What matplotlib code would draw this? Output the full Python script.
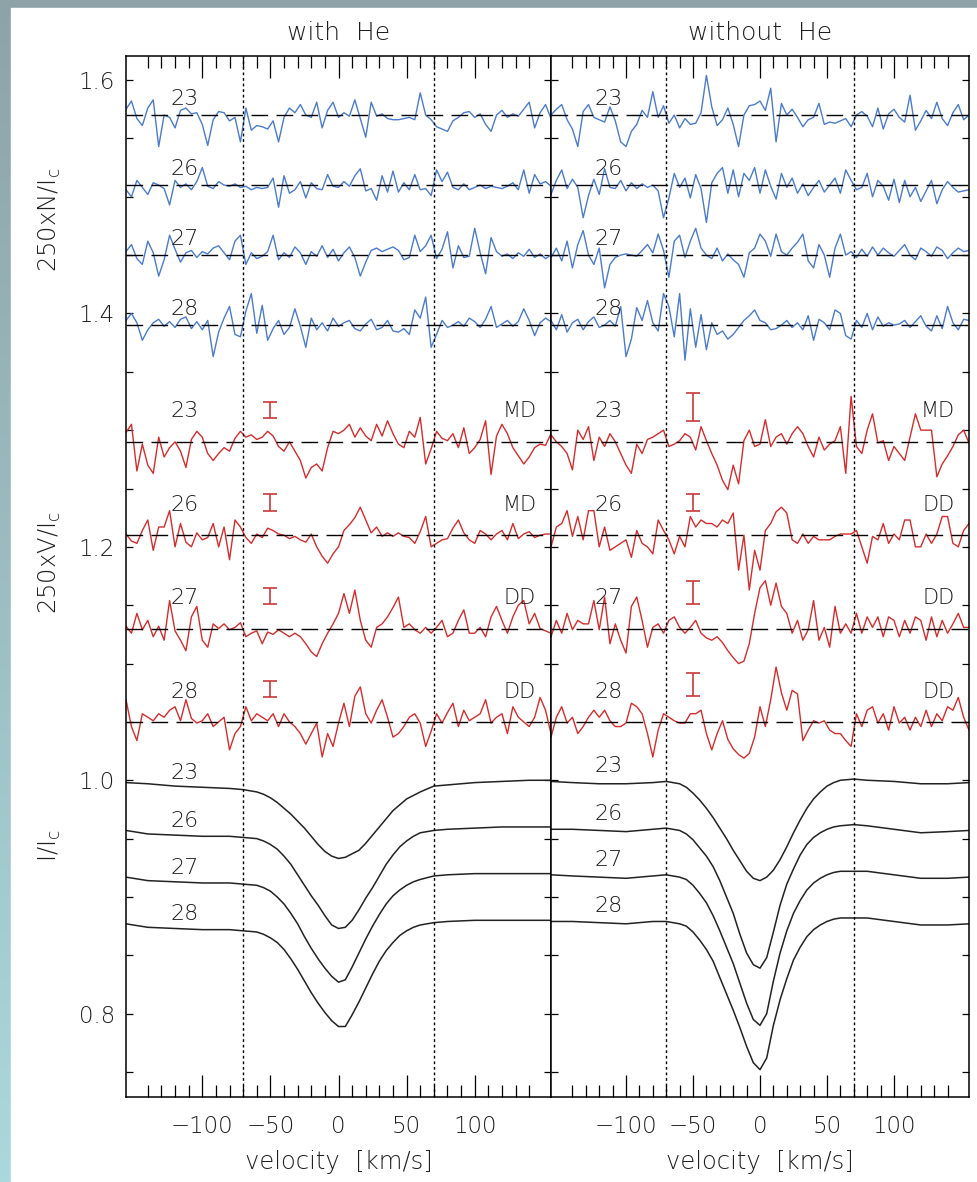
import numpy as np
import matplotlib.pyplot as plt
from matplotlib.patches import Rectangle
from matplotlib.colors import LinearSegmentedColormap

plt.rcParams['font.family'] = ['DejaVu Sans']
plt.rcParams['font.weight'] = 'light'
plt.rcParams['axes.titleweight'] = 'light'
plt.rcParams['axes.labelweight'] = 'light'
plt.rcParams['mathtext.default'] = 'regular'

nights = ['23', '26', '27', '28']
field_left = ['MD', 'MD', 'DD', 'DD']
field_right = ['MD', 'DD', 'DD', 'DD']

# offsets of the stacked curves
n_base = [1.57, 1.51, 1.45, 1.39]
v_base = [1.29, 1.21, 1.13, 1.05]

# intensity profiles, velocity grid in km/s
v_prof = [-156, -140, -120, -100, -80, -70,
          -60, -55, -50, -45, -40, -35, -30, -25, -20, -15, -10, -5, 0,
          5, 10, 15, 20, 25, 30, 35, 40, 45, 50, 55, 60,
          70, 80, 100, 120, 140, 156]

i_left = [
    [0.998, 0.997, 0.995, 0.994, 0.993, 0.992,
     0.990, 0.988, 0.985, 0.981, 0.976, 0.971, 0.965, 0.959, 0.952, 0.945, 0.939, 0.935, 0.933,
     0.934, 0.937, 0.940, 0.946, 0.953, 0.960, 0.967, 0.974, 0.979, 0.984, 0.987, 0.990,
     0.995, 0.996, 0.998, 0.999, 1.000, 1.000],
    [0.957, 0.954, 0.953, 0.952, 0.952, 0.951,
     0.950, 0.948, 0.945, 0.941, 0.935, 0.928, 0.919, 0.910, 0.901, 0.893, 0.884, 0.876, 0.873,
     0.874, 0.880, 0.889, 0.899, 0.908, 0.918, 0.928, 0.936, 0.943, 0.948, 0.952, 0.955,
     0.957, 0.958, 0.959, 0.960, 0.960, 0.960],
    [0.917, 0.914, 0.913, 0.912, 0.912, 0.911,
     0.910, 0.908, 0.905, 0.900, 0.894, 0.886, 0.877, 0.866, 0.856, 0.847, 0.839, 0.832, 0.827,
     0.829, 0.840, 0.852, 0.864, 0.875, 0.885, 0.894, 0.901, 0.906, 0.910, 0.913, 0.915,
     0.918, 0.919, 0.920, 0.920, 0.920, 0.920],
    [0.877, 0.874, 0.873, 0.872, 0.872, 0.871,
     0.870, 0.868, 0.865, 0.861, 0.855, 0.847, 0.838, 0.828, 0.818, 0.809, 0.801, 0.794, 0.789,
     0.789, 0.799, 0.810, 0.822, 0.834, 0.845, 0.854, 0.861, 0.867, 0.871, 0.874, 0.876,
     0.878, 0.879, 0.880, 0.880, 0.880, 0.880],
]

i_right = [
    [0.999, 0.998, 0.997, 0.997, 0.998, 0.999,
     0.997, 0.994, 0.989, 0.983, 0.976, 0.968, 0.959, 0.950, 0.940, 0.931, 0.922, 0.916, 0.914,
     0.917, 0.923, 0.932, 0.943, 0.955, 0.966, 0.976, 0.984, 0.990, 0.995, 0.998, 1.000,
     1.001, 1.000, 0.999, 0.997, 0.997, 0.998],
    [0.958, 0.958, 0.957, 0.956, 0.958, 0.959,
     0.957, 0.954, 0.949, 0.942, 0.935, 0.926, 0.914, 0.900, 0.886, 0.868, 0.852, 0.842, 0.839,
     0.848, 0.870, 0.893, 0.911, 0.924, 0.936, 0.945, 0.951, 0.955, 0.958, 0.960, 0.961,
     0.962, 0.961, 0.958, 0.955, 0.956, 0.957],
    [0.919, 0.918, 0.917, 0.916, 0.918, 0.919,
     0.917, 0.915, 0.910, 0.903, 0.895, 0.884, 0.871, 0.857, 0.843, 0.826, 0.809, 0.795, 0.790,
     0.800, 0.828, 0.852, 0.871, 0.886, 0.897, 0.906, 0.912, 0.916, 0.919, 0.921, 0.922,
     0.922, 0.922, 0.919, 0.916, 0.916, 0.917],
    [0.879, 0.879, 0.878, 0.877, 0.879, 0.879,
     0.877, 0.875, 0.870, 0.863, 0.855, 0.845, 0.831, 0.817, 0.803, 0.788, 0.772, 0.758, 0.752,
     0.762, 0.790, 0.812, 0.830, 0.846, 0.857, 0.866, 0.872, 0.876, 0.879, 0.881, 0.882,
     0.882, 0.882, 0.879, 0.876, 0.876, 0.877],
]

# null profiles N (x1e-3, about the offset), samples every 4 km/s from -156
n_left = [
    [5, 12, -3, -9, 6, 13, -27, 0, -2, -11,
     4, 6, 1, 2, -8, -26, -4, 3, 2, -5,
     -2, -23, 6, -13, -9, -10, -12, -5, -23, -2,
     6, 2, 9, 0, -2, 11, -11, 4, 11, -2,
     2, -1, 13, -3, -19, 11, -1, 1, -3, -4,
     -4, -3, -2, -4, 19, 0, -4, -10, -12, -14,
     -5, -2, 2, 3, -2, 1, -8, -14, 0, 4,
     -2, 1, -1, 5, 11, -11, 2, 9, -3],
    [-4, -10, 4, -2, -8, 2, 0, -3, -17, 4,
     -2, 1, -4, 3, 15, -1, -3, 3, 0, -1,
     1, -2, -1, -4, -2, -3, -2, 6, -19, 8,
     -7, -4, 3, -11, 2, -3, -4, 9, -1, -2,
     3, -1, 8, 14, -5, -3, -13, 8, -6, 12,
     -6, 2, -4, 9, -4, -3, -9, 13, 3, 11,
     -2, -4, 1, -4, -2, 0, -3, -1, -2, -3,
     -1, 2, -4, 13, -7, 9, 1, 3, -1],
    [3, 9, -3, -8, 12, 2, -18, -4, 17, 5,
     -6, 2, 4, -2, 3, 1, 6, 8, 2, -4,
     12, 17, -8, 2, -3, -1, 3, 17, -4, 2,
     -2, 7, 2, -8, 3, -1, 8, -2, 5, -5,
     2, 7, -2, -18, -6, 4, 6, 3, 5, 7,
     4, -4, -2, 17, 3, 8, 17, -3, 5, 20,
     -11, 8, -2, -1, 23, 2, -16, 15, 3, -1,
     1, -3, 2, -1, 5, -2, 1, -3, 0],
    [4, 10, 2, -13, -4, 2, 5, -1, 3, -2,
     5, 7, -3, 3, -4, 4, -27, -6, 6, 16,
     -8, -10, 12, 27, -7, 17, -13, -3, 4, -8,
     -2, 14, -1, -19, 6, -4, 2, -5, 6, -1,
     2, 4, -3, -5, 1, 5, -4, -2, 4, -5,
     -6, -3, -8, 13, 6, 24, -19, -8, 4, -2,
     0, 3, -1, 6, 3, -2, 5, 16, -2, 1,
     4, -1, 3, 14, 4, -9, 2, 6, 3],
]

n_right = [
    [0, 5, 9, -4, -12, -27, 3, 9, -2, -4,
     -6, 7, -5, -23, -27, -14, -8, 4, -2, 20,
     -2, 8, -7, 0, -11, -3, -8, -7, 2, 34,
     7, -9, -4, 6, -8, -27, 0, 8, 9, 12,
     4, 23, -23, 10, 0, 5, -2, -10, -4, -2,
     10, -8, -6, -7, -5, -3, -10, 0, 3, -1,
     -10, 6, -12, 1, 5, -2, -6, 17, -13, -5,
     4, -3, 11, -3, -9, 2, 9, -4, 0],
    [-8, 4, 13, -3, 5, -2, -28, -9, 5, -8,
     14, -2, -3, 4, -5, 2, -3, 1, -2, 0,
     -5, -28, -11, 10, -2, 6, -11, 9, -3, -32,
     2, 10, 15, -7, 13, -10, 10, 4, 15, -7,
     13, -1, -12, 10, -2, 6, -7, 1, -9, -2,
     4, -6, 0, 6, -7, 13, 4, -4, -2, 10,
     -10, 4, -1, -13, 5, -15, 4, -10, -2, -14,
     -5, 4, -16, -4, 3, -2, -6, -5, -4],
    [-2, 6, -5, 12, -11, 9, 21, 0, -8, 6,
     -28, -8, -2, 0, 1, 0, -1, 4, 9, 2,
     18, 4, -19, 12, 17, -2, 12, 23, 6, 0,
     -3, 6, -5, 1, -4, -8, -19, 2, 6, 18,
     12, -1, 18, 3, 0, 6, 11, 18, -5, -11,
     9, 0, -19, 6, 18, 0, 3, -2, 5, -1,
     7, 0, 6, 2, -1, 4, 9, 0, -4, 6,
     3, -1, 7, 4, -3, 2, 6, 3, 4],
    [4, -4, 9, -6, 2, 5, -4, 3, 7, -2,
     0, 4, -1, 16, -27, -12, 15, 4, 21, 2,
     -5, 27, 16, -10, 27, -30, 14, -19, 9, -21,
     2, -8, -5, -12, -8, -2, 4, 8, 13, 4,
     2, -4, -3, 0, 4, -2, 2, -4, 8, -13,
     5, 2, -4, 13, 10, -9, -12, 4, -2, 10,
     -4, 7, -1, 2, 0, 1, 4, -2, 3, 8,
     -1, -5, 8, -3, 16, 2, -4, 5, 4],
]

# Stokes V profiles (x1e-3, about the offset)
v_left = [
    [8, 15, -25, -2, -20, -27, 4, -13, -5, 0,
     -8, -22, 2, 9, 4, -10, -16, -10, -5, -8,
     3, 9, 4, 6, 2, 4, 9, 5, -4, -8,
     0, -8, -16, -31, -22, -19, -25, -5, 9, 7,
     10, 15, 4, 12, 5, 1, 15, 5, 18, 7,
     -2, -5, 9, 4, 21, -19, -6, 9, 3, 1,
     7, -5, 12, -10, -5, 2, 18, -28, 5, 15,
     7, -5, -12, -19, -13, -5, -2, -3, 7],
    [1, -5, -7, 4, 13, -13, 7, 7, 21, -10,
     10, -6, -10, 2, -4, -2, 10, -10, 7, -21,
     13, 7, -2, -7, 1, -2, 6, 4, 1, 0,
     -3, -1, -4, -6, 1, -10, -18, -24, -16, -10,
     4, 9, 15, 24, 13, 2, 7, -1, 2, -1,
     2, -1, -2, -7, 3, 16, -10, -7, -4, -3,
     6, 13, 2, -4, -7, 4, 1, -4, 1, 4,
     -4, 10, -3, 1, 3, -2, 0, 1, 1],
    [2, -4, 13, -1, 7, -7, 2, -10, 24, -2,
     -10, -19, 10, 19, -10, -16, 4, 0, 4, -1,
     1, 5, -7, -4, -2, -13, -3, -5, -1, -4,
     -7, -4, -7, -13, -20, -24, -13, -4, 4, 13,
     30, 13, 33, 7, -10, -16, 1, 4, 10, 18,
     27, 1, 4, -1, -4, 1, -4, 1, 7, -7,
     -4, 7, 16, -4, -4, 1, -7, 10, 19, 7,
     -4, 10, 20, 24, 4, 13, 0, -2, -4],
    [19, -4, -16, 7, 4, 1, 7, 4, 10, 13,
     1, 19, 3, -1, 1, 7, -4, 0, 4, -24,
     -10, -4, 13, 1, 7, 4, 1, 7, -4, 7,
     0, -4, -10, -19, -10, -1, -30, -10, -21, -1,
     16, -4, 22, 30, 7, -1, 10, 19, 4, -13,
     -10, -4, 4, 7, -1, -21, -8, 7, -1, 8,
     16, -4, 10, 1, 4, 7, 19, -1, 4, 7,
     -10, 13, 4, 0, -4, 4, 21, 10, -10],
]

v_right = [
    [6, 0, -4, -10, -24, 10, 2, 13, -16, 4,
     -4, 7, 0, -10, -20, -27, -2, -10, 2, 4,
     7, 10, -4, -2, 1, 7, 4, -7, 13, 1,
     -10, -20, -33, -41, -20, -36, 1, 10, -4, -2,
     19, -4, 4, 7, -2, 7, 13, 7, -4, -13,
     4, -7, -2, 1, 13, -27, 39, -4, -10, 10,
     24, -1, 1, -16, -4, -10, -16, 4, 24, 10,
     10, 10, -30, -19, -12, -4, 6, 10, -1],
    [-10, 7, 10, 21, -1, 16, -4, 21, 21, -10,
     7, -13, -10, -7, -4, -19, 4, -7, -10, -16,
     13, 4, -4, -16, -1, -10, 16, 7, 13, 10,
     10, 7, 13, 10, 19, -30, 0, -47, -13, -30,
     4, 10, 20, 24, 19, -4, -7, 1, -7, -1,
     -4, -4, -4, -1, 1, 1, 1, 4, -10, -24,
     -1, -4, 10, -7, 1, -4, 13, 13, -10, -10,
     1, -7, 1, 16, 16, -7, -10, 4, 10],
    [-7, 7, -4, 13, -1, 7, 4, 4, 24, -1,
     27, -13, 4, -10, -21, 19, 27, 7, -16, 1,
     4, -4, 7, 10, 1, -4, 1, 7, -4, -8,
     -10, -7, -12, -19, -25, -30, -28, -13, 13, 35,
     41, 20, 39, 19, 13, -4, 7, -10, -1, 24,
     -10, 1, -16, 19, -4, 4, -4, 13, -4, 10,
     1, 10, -7, 10, 7, -7, 7, -4, 10, 7,
     -10, 10, -7, 7, -4, 4, 13, 1, 1],
    [-13, 4, 13, -1, 4, -10, -4, 4, 10, 4,
     10, 1, -4, -4, -1, 16, 13, 7, -10, -30,
     -7, 7, 4, 1, -1, -1, 7, 7, 10, -10,
     -24, -10, 1, -15, -23, -28, -31, -27, -13, 13,
     -4, 19, 47, 25, 10, 27, 24, -16, -7, 1,
     -1, 1, -7, -10, -10, -16, -21, 7, -4, 10,
     13, -1, 7, -7, 13, -1, 4, -7, 4, -4,
     10, -4, 7, 1, 13, 10, 21, 4, -7],
]

# typical error bars on V
err_y_left = [1.317, 1.238, 1.158, 1.078]
err_h_left = [0.007, 0.007, 0.007, 0.007]
err_y_right = [1.320, 1.238, 1.161, 1.082]
err_h_right = [0.012, 0.007, 0.010, 0.010]

txt = '#1e1e1e'
blue = '#4a7bcc'
red = '#d42c2c'

fig = plt.figure(figsize=(9.77, 11.82), dpi=100)

bg = fig.add_axes([0, 0, 1, 1], zorder=-10)
cmap = LinearSegmentedColormap.from_list('bg', ['#abd8dc', '#8ea3a8'])
bg.imshow(np.linspace(0, 1, 256).reshape(-1, 1), aspect='auto', cmap=cmap,
          extent=[0, 1, 0, 1], origin='lower')
bg.add_patch(Rectangle((11 / 977, 0), 1, 1 - 8 / 1182, color='white', transform=bg.transAxes))
bg.set_xlim(0, 1)
bg.set_ylim(0, 1)
bg.axis('off')

ax1 = fig.add_axes([126 / 977, 85 / 1182, 425 / 977, 1041 / 1182])
ax2 = fig.add_axes([551 / 977, 85 / 1182, 418 / 977, 1041 / 1182])

panels = [
    (ax1, 'with  He', i_left, n_left, v_left, field_left, err_y_left, err_h_left, 0.0),
    (ax2, 'without  He', i_right, n_right, v_right, field_right, err_y_right, err_h_right, 0.005),
]

for ax, title, prof, nn, vv, field, ey, eh, dy in panels:
    for k in range(4):
        xn = np.linspace(-156, 156, len(nn[k]))
        ax.plot(xn, n_base[k] + np.array(nn[k]) / 1000, color=blue, lw=1.0)
        xv = np.linspace(-156, 156, len(vv[k]))
        ax.plot(xv, v_base[k] + np.array(vv[k]) / 1000, color=red, lw=1.0)
        ax.plot(v_prof, prof[k], color='#222222', lw=1.1)
        ax.axhline(n_base[k], color='black', lw=1.0, dashes=(12, 6), zorder=3)
        ax.axhline(v_base[k], color='black', lw=1.0, dashes=(12, 6), zorder=3)
        ax.errorbar(-50, ey[k], yerr=eh[k], color='#c8383a', lw=1.2, capsize=5, capthick=1.2)

        ax.text(-113, n_base[k] + 0.014, nights[k], fontsize=16, color=txt, ha='center', va='center')
        ax.text(-113, v_base[k] + 0.026, nights[k], fontsize=16, color=txt, ha='center', va='center')
        ax.text(-113, prof[k][0] + 0.008 + dy, nights[k], fontsize=16, color=txt, ha='center', va='center')
        ax.text(133, v_base[k] + 0.026, field[k], fontsize=15, color=txt, ha='center', va='center')

    ax.axvline(-70, color='black', lw=1.0, linestyle=(0, (2, 2)))
    ax.axvline(70, color='black', lw=1.0, linestyle=(0, (2, 2)))

    ax.set_xlim(-156, 156)
    ax.set_ylim(0.7286, 1.6206)
    ax.set_xticks([-100, -50, 0, 50, 100])
    ax.set_xticks(np.arange(-140, 141, 10), minor=True)
    ax.set_yticks([0.8, 1.0, 1.2, 1.4, 1.6])
    ax.set_yticks(np.arange(0.75, 1.61, 0.05), minor=True)
    ax.tick_params(which='both', direction='in', top=True, right=True, width=0.9,
                   labelsize=16.5, labelcolor=txt)
    ax.tick_params(axis='x', which='major', length=16, pad=13.3)
    ax.tick_params(axis='x', which='minor', length=8.5)
    ax.tick_params(axis='y', which='both', length=5, pad=8)
    for s in ax.spines.values():
        s.set_linewidth(1.1)
    ax.set_title(title, fontsize=18, color=txt, pad=11.5)
    ax.set_xlabel('velocity  [km/s]', fontsize=17.5, color=txt, labelpad=8)

ax2.tick_params(labelleft=False)

ytr = ax1.get_yaxis_transform()
ax1.text(-0.18, 1.48, '250xN/I$_c$', transform=ytr, rotation=90, fontsize=17.5,
         color=txt, ha='center', va='center')
ax1.text(-0.18, 1.187, '250xV/I$_c$', transform=ytr, rotation=90, fontsize=17.5,
         color=txt, ha='center', va='center')
ax1.text(-0.18, 0.944, 'I/I$_c$', transform=ytr, rotation=90, fontsize=17.5,
         color=txt, ha='center', va='center')

plt.savefig('out.png', dpi=100)
